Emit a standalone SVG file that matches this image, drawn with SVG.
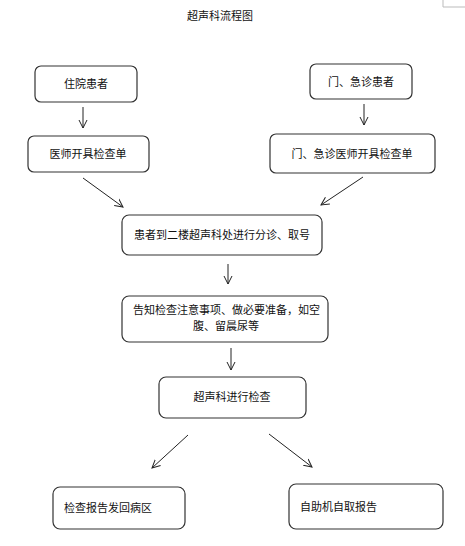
<svg xmlns="http://www.w3.org/2000/svg" width="465" height="546" viewBox="0 0 465 546">
<style>
.box{fill:#fff;stroke:#333;stroke-width:1.2}
.t{font-family:"Noto Sans CJK SC","Noto Sans",sans-serif;font-size:11px;fill:#111}
.c{text-anchor:middle}
.ln{stroke:#222;stroke-width:1;fill:none}
</style>
<defs>
<marker id="ah" markerUnits="userSpaceOnUse" markerWidth="10" markerHeight="10" refX="8" refY="4.5" orient="auto" viewBox="0 0 10 9">
<path d="M0,0.5 L8,4.5 L0,8.5" fill="none" stroke="#222" stroke-width="1"/>
</marker>
</defs>
<rect width="465" height="546" fill="#fff"/>
<path d="M443,0 V7 H465" fill="none" stroke="#bbb" stroke-width="1"/>
<text class="t c" x="220" y="20">超声科流程图</text>
<g id="n1"><rect class="box" x="35" y="66" width="102" height="36" rx="6"/><text class="t c" x="86" y="88">住院患者</text></g>
<g id="n2"><rect class="box" x="310" y="64" width="102" height="35" rx="6"/><text class="t c" x="361" y="86">门、急诊患者</text></g>
<g id="n3"><rect class="box" x="28" y="136" width="121" height="36" rx="6"/><text class="t c" x="88" y="158">医师开具检查单</text></g>
<g id="n4"><rect class="box" x="270" y="134" width="165" height="39" rx="6"/><text class="t c" x="352" y="158">门、急诊医师开具检查单</text></g>
<g id="n5"><rect class="box" x="122" y="215" width="200" height="40" rx="7"/><text class="t c" x="222" y="239">患者到二楼超声科处进行分诊、取号</text></g>
<g id="n6"><rect class="box" x="122" y="296" width="206" height="46" rx="7"/><text class="t" x="133" y="314">告知检查注意事项、做必要准备，如空</text><text class="t c" x="226" y="330">腹、留晨尿等</text></g>
<g id="n7"><rect class="box" x="159" y="377" width="147" height="41" rx="7"/><text class="t c" x="232" y="401">超声科进行检查</text></g>
<g id="n8"><rect class="box" x="53" y="487" width="132" height="42" rx="7"/><text class="t" x="64" y="512">检查报告发回病区</text></g>
<g id="n9"><rect class="box" x="289" y="484" width="154" height="45" rx="7"/><text class="t" x="300" y="511">自助机自取报告</text></g>
<g id="edges">
<line class="ln" x1="83" y1="107" x2="83" y2="128" marker-end="url(#ah)"/>
<line class="ln" x1="364" y1="104" x2="364" y2="125" marker-end="url(#ah)"/>
<line class="ln" x1="83" y1="178" x2="123" y2="207" marker-end="url(#ah)"/>
<line class="ln" x1="363" y1="177" x2="321" y2="205" marker-end="url(#ah)"/>
<line class="ln" x1="228" y1="264" x2="228" y2="284" marker-end="url(#ah)"/>
<line class="ln" x1="231" y1="348" x2="231" y2="370" marker-end="url(#ah)"/>
<line class="ln" x1="188" y1="435" x2="152" y2="468" marker-end="url(#ah)"/>
<line class="ln" x1="269" y1="434" x2="312" y2="467" marker-end="url(#ah)"/>
</g>
</svg>
